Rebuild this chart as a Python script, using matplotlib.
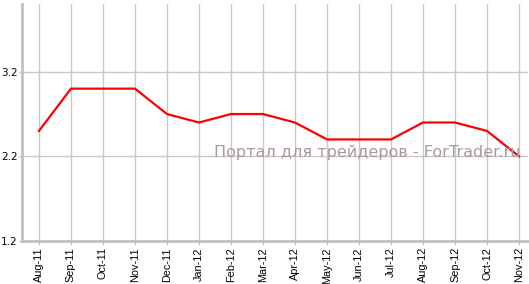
import matplotlib
matplotlib.use('Agg')
import matplotlib.pyplot as plt

months = ['Aug-11', 'Sep-11', 'Oct-11', 'Nov-11', 'Dec-11', 'Jan-12', 'Feb-12', 'Mar-12',
          'Apr-12', 'May-12', 'Jun-12', 'Jul-12', 'Aug-12', 'Sep-12', 'Oct-12', 'Nov-12']
values = [2.5, 3.0, 3.0, 3.0, 2.7, 2.6, 2.7, 2.7, 2.6, 2.4, 2.4, 2.4, 2.6, 2.6, 2.5, 2.2]
yticks = [1.2, 2.2, 3.2]

fig = plt.figure(figsize=(5.29, 2.84), dpi=100, facecolor='white')
ax = fig.add_axes([22 / 529, 43 / 284, 506 / 529, 237 / 284])

x = list(range(len(months)))
ax.plot(x, values, color='#ff0000', linewidth=1.6, zorder=3)

ax.set_xlim(-0.53, 15.28)
ax.set_ylim(1.2, 4.0)
ax.set_xticks(x)
ax.set_xticklabels(months, rotation=90, fontsize=7.8, family='Liberation Sans')
ax.set_yticks(yticks)
ax.set_yticklabels([str(v) for v in yticks], fontsize=7.5, family='DejaVu Sans')

ax.grid(True, color='#c8c8c8', linewidth=1)
ax.set_axisbelow(True)
ax.patch.set_edgecolor('none')
for side in ['top', 'right']:
    ax.spines[side].set_visible(False)
for side in ['left', 'bottom']:
    ax.spines[side].set_color('#c0c0c0')
    ax.spines[side].set_linewidth(2)
ax.tick_params(axis='x', colors='#c0c0c0', labelcolor='black', length=3, width=1, pad=1.5)
ax.tick_params(axis='y', colors='#c0c0c0', labelcolor='black', length=2, width=1, pad=1)

ax.text((367 - 22) / 506, (241 - 152) / 237, 'Портал для трейдеров - ForTrader.ru',
        transform=ax.transAxes, fontsize=11.5, color='#a89a9a', ha='center', va='center',
        family='DejaVu Sans')

fig.savefig('out.png', dpi=100, facecolor='white')
